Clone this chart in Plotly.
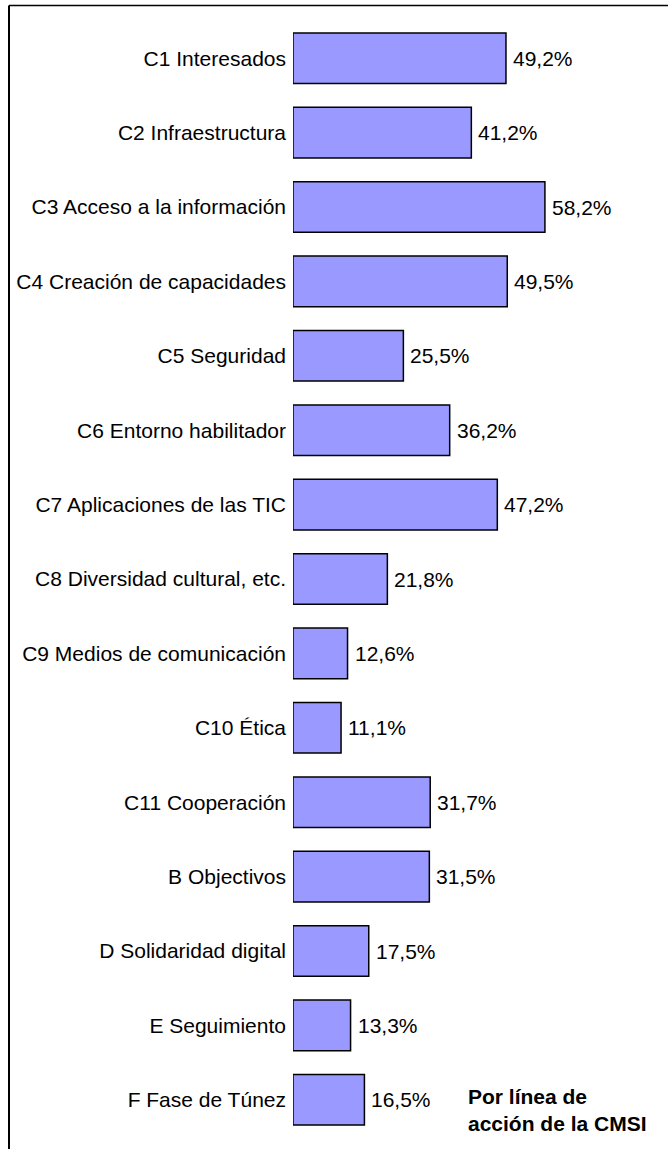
import plotly.graph_objects as go

categories = [
    "C1 Interesados", "C2 Infraestructura", "C3 Acceso a la información",
    "C4 Creación de capacidades", "C5 Seguridad", "C6 Entorno habilitador",
    "C7 Aplicaciones de las TIC", "C8 Diversidad cultural, etc.",
    "C9 Medios de comunicación", "C10 Ética", "C11 Cooperación",
    "B Objectivos", "D Solidaridad digital", "E Seguimiento", "F Fase de Túnez",
]
values = [49.2, 41.2, 58.2, 49.5, 25.5, 36.2, 47.2, 21.8, 12.6, 11.1, 31.7, 31.5, 17.5, 13.3, 16.5]
value_labels = [f"{v:.1f}%".replace(".", ",") for v in values]
note_text = "<b>Por línea de<br>acción de la CMSI</b>"

W, H = 668, 1149
ML, MR, MT, MB = 293, 72, 21, 12
XMAX = 70
plot_w = W - ML - MR
plot_h = H - MT - MB

font = dict(family="Liberation Sans, Arial, sans-serif", size=21, color="#000000")

fig = go.Figure(go.Bar(
    x=values, y=categories, orientation="h",
    marker=dict(color="#9999FF", line=dict(color="#000000", width=1.5)),
    hoverinfo="skip",
))

annotations = [
    dict(x=v, y=c, text=t, xref="x", yref="y", xanchor="left", yanchor="middle",
         xshift=5, showarrow=False, font=font)
    for v, c, t in zip(values, categories, value_labels)
]
annotations.append(dict(
    x=(466 - ML) / plot_w, y=categories[-1], xref="paper", yref="y",
    xanchor="left", yanchor="top", yshift=17, text=note_text, align="left",
    showarrow=False, font=font,
))

px = lambda p: (p - ML) / plot_w
py = lambda p: 1 - (p - MT) / plot_h

shapes = [
    dict(type="line", xref="paper", yref="paper", x0=px(9), x1=px(W + 5), y0=py(5.5), y1=py(5.5),
         line=dict(color="#000000", width=1.5)),
    dict(type="line", xref="paper", yref="paper", x0=px(9), x1=px(9), y0=py(5.5), y1=py(H + 5),
         line=dict(color="#000000", width=2)),
]

fig.update_layout(
    width=W, height=H,
    margin=dict(l=ML, r=MR, t=MT, b=MB),
    paper_bgcolor="#FFFFFF", plot_bgcolor="#FFFFFF",
    bargap=0.32, showlegend=False,
    font=font,
    xaxis=dict(range=[0, XMAX], visible=False, fixedrange=True),
    yaxis=dict(autorange="reversed", showgrid=False, showline=False, zeroline=False,
               ticks="", ticklabelstandoff=6, tickfont=font, fixedrange=True),
    annotations=annotations,
    shapes=shapes,
)

fig.write_html("out.html", config={"displayModeBar": False},
               post_script="document.body.style.margin='0';")
